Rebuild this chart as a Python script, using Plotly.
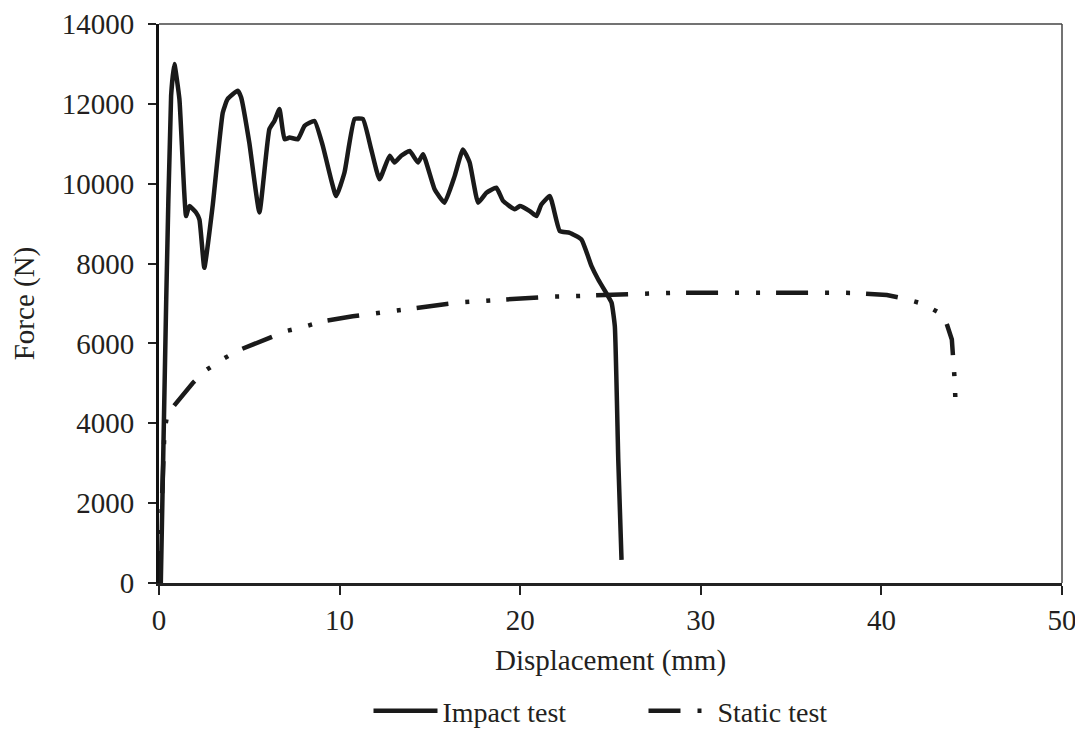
import plotly.graph_objects as go

# Impact test (displacement mm, force N)
impact_x = [0.10, 0.40, 0.67, 0.85, 1.13, 1.50, 1.68, 2.05, 2.24, 2.51, 2.97, 3.53, 3.80, 4.36, 4.55,
            5.00, 5.56, 6.11, 6.39, 6.67, 6.95, 7.23, 7.69, 8.06, 8.61, 9.07, 9.81, 10.27, 10.83,
            11.29, 11.75, 12.21, 12.77, 13.04, 13.41, 13.88, 14.34, 14.62, 15.26, 15.81, 16.37,
            16.83, 17.20, 17.67, 18.13, 18.68, 19.05, 19.70, 19.98, 20.53, 20.90, 21.17, 21.64,
            22.19, 22.74, 23.39, 23.95, 24.32, 24.87, 25.06, 25.24, 25.43, 25.61]
impact_f = [0, 7100, 12200, 13000, 12120, 9190, 9440, 9280, 9100, 7895, 9440, 11780, 12120, 12330, 12160,
            11030, 9280, 11365, 11570, 11870, 11115, 11155, 11115, 11450, 11570, 10950, 9690, 10280, 11620,
            11620, 10860, 10110, 10700, 10530, 10700, 10820, 10530, 10740, 9860, 9525, 10190,
            10860, 10530, 9525, 9775, 9900, 9570, 9360, 9440, 9315, 9190, 9480, 9690,
            8815, 8770, 8605, 7935, 7600, 7180, 7020, 6430, 3085, 580]

# Static test
static_x = [0, 0.10, 0.20, 0.30, 0.45, 0.67, 1.87, 2.60, 3.49, 4.36, 6.12, 7.04, 8.06, 9.07, 10.73,
            11.84, 12.86, 13.97, 15.72, 16.74, 17.76, 18.77, 20.53, 21.64, 22.65, 23.67, 25.52,
            26.50, 27.55, 28.56, 30.40, 32.45, 33.46, 35.30, 36.30, 37.30, 38.45, 40.30, 41.30,
            42.30, 43.15, 43.60, 43.90, 44.00, 44.05, 44.12]
static_f = [0, 1500, 3000, 3800, 4200, 4350, 5010, 5330, 5595, 5820, 6140, 6310, 6420, 6555, 6680,
            6750, 6810, 6875, 6975, 7030, 7060, 7100, 7140, 7170, 7180, 7200, 7230,
            7240, 7260, 7270, 7270, 7275, 7285, 7285, 7275, 7270, 7265, 7210, 7120,
            6990, 6780, 6515, 6100, 5610, 5135, 4340]

x_ticks = [0, 10, 20, 30, 40, 50]
y_ticks = [0, 2000, 4000, 6000, 8000, 10000, 12000, 14000]

FONT = "Liberation Serif"
TXT = "#231f20"
FS = 29

fig = go.Figure()
fig.add_trace(go.Scatter(x=impact_x, y=impact_f, mode="lines", name="Impact test",
                         line=dict(color="#1a1a1a", width=4.5, shape="spline", smoothing=0.4)))
fig.add_trace(go.Scatter(x=static_x, y=static_f, mode="lines", name="Static test",
                         line=dict(color="#1a1a1a", width=4.5,
                                   dash="32px,17px,4px,17px,4px,16px")))

fig.update_layout(
    width=1083, height=731, autosize=False,
    margin=dict(l=151, r=29, t=16, b=156, autoexpand=False),
    paper_bgcolor="white", plot_bgcolor="white",
    font=dict(family=FONT, size=FS, color=TXT),
    showlegend=True,
    legend=dict(orientation="h", x=0.232, xanchor="left", y=-0.229, yanchor="middle",
                font=dict(family=FONT, size=28, color=TXT), itemwidth=64,
                entrywidth=196, entrywidthmode="pixels",
                bgcolor="rgba(0,0,0,0)"),
    xaxis=dict(range=[0, 50], tickvals=x_ticks, ticktext=[str(v) for v in x_ticks],
               automargin=False,
               showgrid=False, zeroline=False, showline=True, linecolor="#222", linewidth=2.5,
               ticks="outside", ticklen=9, tickwidth=2, tickcolor="#222",
               title=dict(text="Displacement (mm)", standoff=16,
                          font=dict(family=FONT, size=FS, color=TXT))),
    yaxis=dict(range=[0, 14000], tickvals=y_ticks, ticktext=[str(v) for v in y_ticks],
               automargin=False, ticklabelstandoff=8,
               showgrid=False, zeroline=False, showline=True, linecolor="#111", linewidth=3,
               ticks="outside", ticklen=8, tickwidth=2, tickcolor="#222",
               title=dict(text="Force (N)", standoff=23,
                          font=dict(family=FONT, size=FS, color=TXT))),
    shapes=[
        dict(type="line", xref="paper", yref="paper", x0=0, x1=1, y0=1, y1=1,
             line=dict(color="#444", width=1.5)),
        dict(type="line", xref="paper", yref="paper", x0=1, x1=1, y0=0, y1=1,
             line=dict(color="#444", width=1.5)),
    ],
)

fig.write_html("out.html")
